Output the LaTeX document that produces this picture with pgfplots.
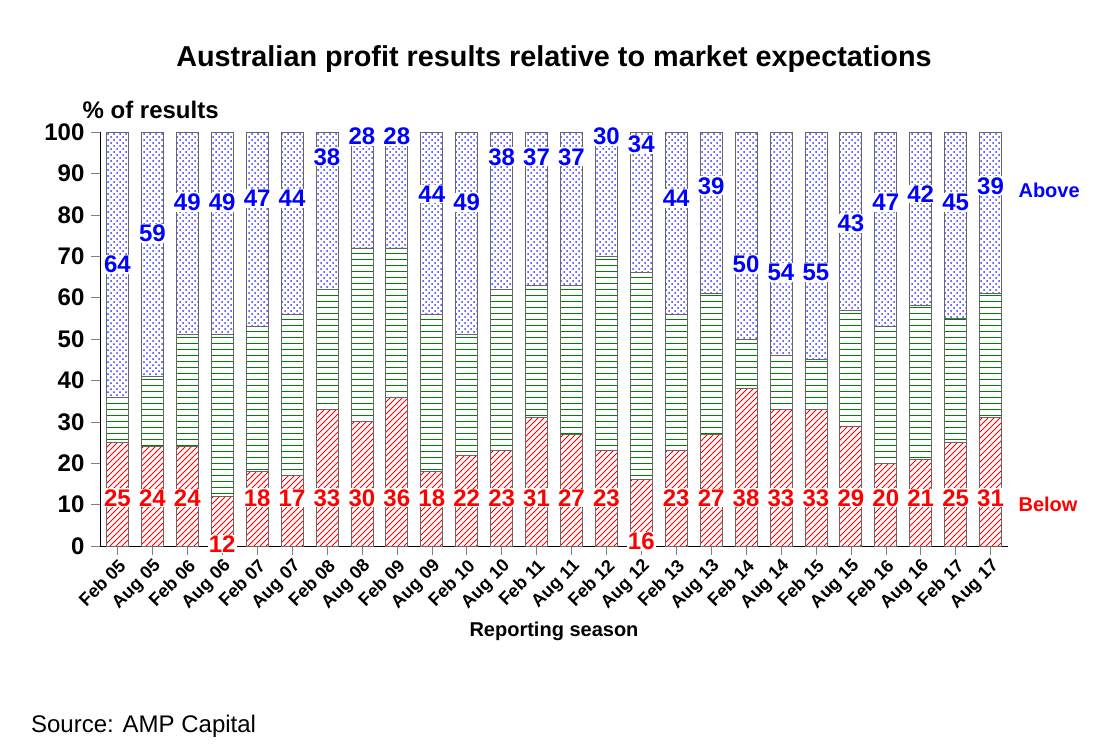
\documentclass[border=0pt]{standalone}
\usepackage{pgfplots}
\pgfplotsset{compat=1.18}
\usepackage{pgfplotstable}
\usepackage{fontspec}
\setmainfont{Liberation Sans}
\usetikzlibrary{patterns}
\pgfplotstableread{
x lab below above inl ya yb
0 {Feb 05} 25 64 11 68 11.6
1 {Aug 05} 24 59 17 75.6 11.6
2 {Feb 06} 24 49 27 83 11.6
3 {Aug 06} 12 49 39 83 0.5
4 {Feb 07} 18 47 35 84 11.6
5 {Aug 07} 17 44 39 84 11.6
6 {Feb 08} 33 38 29 94 11.6
7 {Aug 08} 30 28 42 99 11.6
8 {Feb 09} 36 28 36 99 11.6
9 {Aug 09} 18 44 38 85 11.6
10 {Feb 10} 22 49 29 83 11.6
11 {Aug 10} 23 38 39 94 11.6
12 {Feb 11} 31 37 32 94 11.6
13 {Aug 11} 27 37 36 94 11.6
14 {Feb 12} 23 30 47 99 11.6
15 {Aug 12} 16 34 50 97 1.2
16 {Feb 13} 23 44 33 84 11.6
17 {Aug 13} 27 39 34 87 11.6
18 {Feb 14} 38 50 12 68 11.6
19 {Aug 14} 33 54 13 66 11.6
20 {Feb 15} 33 55 12 66 11.6
21 {Aug 15} 29 43 28 78 11.6
22 {Feb 16} 20 47 33 83 11.6
23 {Aug 16} 21 42 37 85 11.6
24 {Feb 17} 25 45 30 83 11.6
25 {Aug 17} 31 39 30 87 11.6
}\data
\begin{document}
\begin{tikzpicture}[font=\bfseries]
\pgfplotsset{base/.style={width=454pt,height=207pt,scale only axis,
 xmin=-0.5,xmax=25.5,ymin=0,ymax=100,
 /pgf/number format/assume math mode=true}}
\path[use as bounding box] (-50pt,-100pt) rectangle (501.5pt,273pt);
\begin{axis}[base,ybar stacked,bar width=11pt,
 axis x line*=bottom, axis y line*=left,
 ytick={0,10,...,100}, tick align=outside, ticklabel style={font=\large\bfseries},
 xtick=data, xticklabels from table={\data}{lab},
 x tick label style={rotate=45,anchor=north east,font=\small\bfseries,inner sep=1pt},
 xlabel={Reporting season}, xlabel style={font=\normalsize\bfseries},
 title={Australian profit results relative to market expectations},
 title style={font=\Large\bfseries,yshift=20pt},
 clip=false]
\addplot[draw=black!60,pattern=north east lines,pattern color=red] table[x=x,y=below]{\data};
\addplot[draw=black!60,pattern=horizontal lines,pattern color=green!50!black] table[x=x,y=inl]{\data};
\addplot[draw=black!60,pattern=crosshatch dots,pattern color=blue!80] table[x=x,y=above]{\data};
\end{axis}
\begin{axis}[base,hide axis,clip=false]
\addplot[only marks,mark=none,nodes near coords,point meta=explicit symbolic,
 nodes near coords style={fill=white,inner sep=0.5pt,text=blue,font=\large\bfseries,anchor=center}]
 table[x=x,y=ya,meta=above]{\data};
\addplot[only marks,mark=none,nodes near coords,point meta=explicit symbolic,
 nodes near coords style={fill=white,inner sep=0.5pt,text=red,font=\large\bfseries,anchor=center}]
 table[x=x,y=yb,meta=below]{\data};
\node[text=blue,anchor=west] at (axis cs:25.6,86) {Above};
\node[text=red,anchor=west] at (axis cs:25.6,10) {Below};
\node[anchor=south west,font=\large\bfseries] at (axis cs:-1.2,101.5) {\% of results};
\end{axis}
\node[anchor=west,font=\large\mdseries] at (-38pt,-90pt) {Source: AMP Capital};
\end{tikzpicture}
\end{document}
